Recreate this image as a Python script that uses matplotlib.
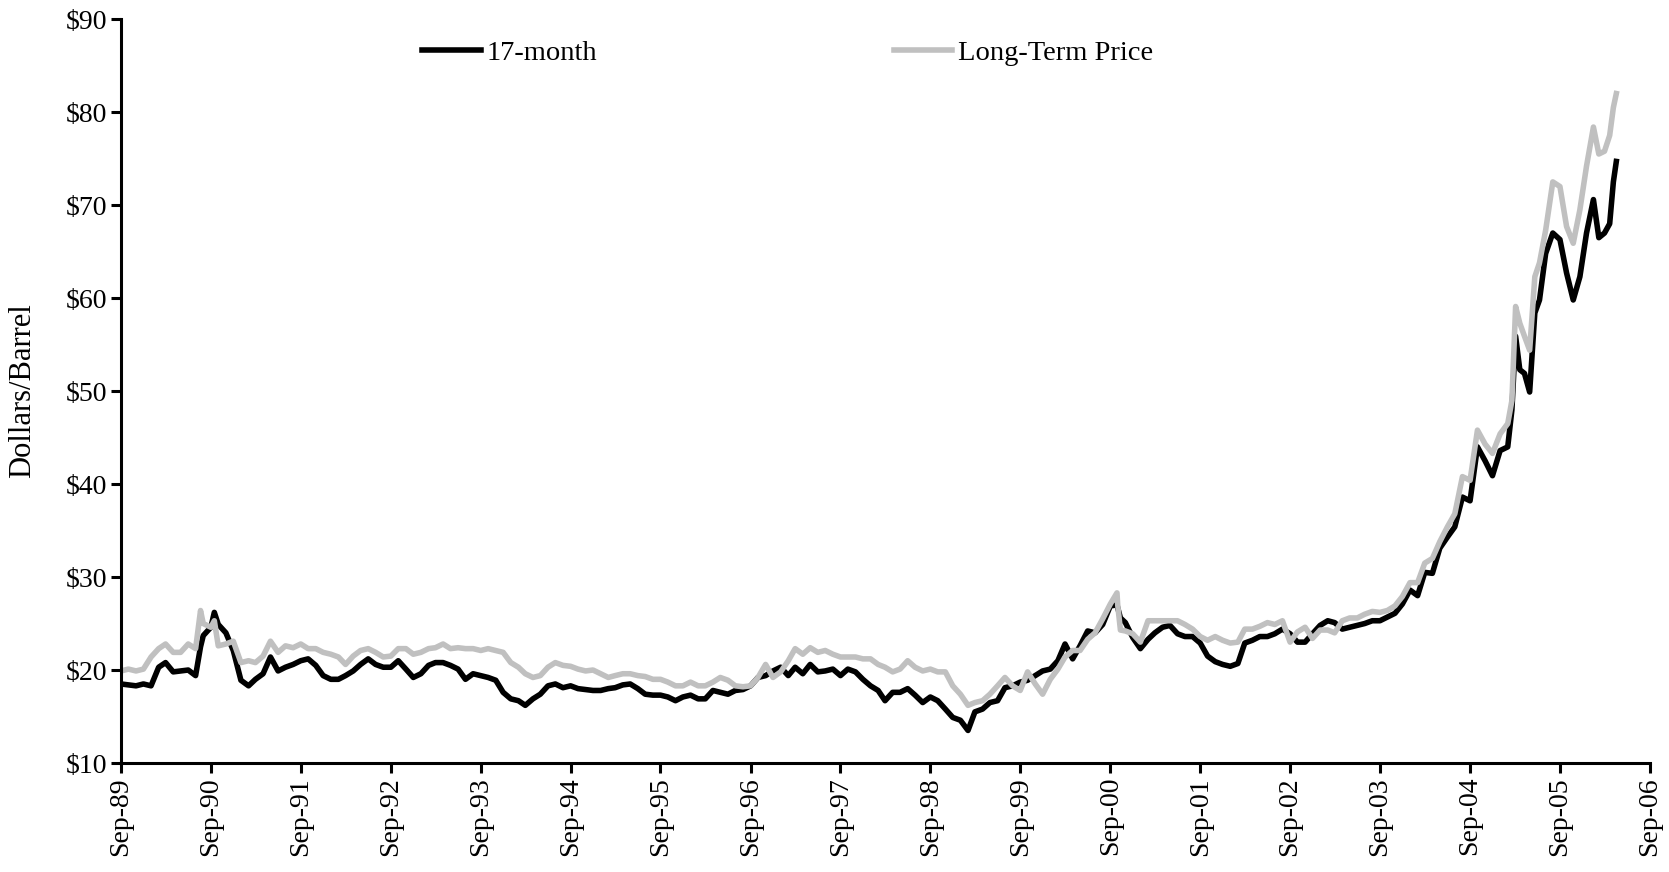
import numpy as np
import pandas as pd
import matplotlib
matplotlib.use('Agg')
import matplotlib.pyplot as plt
import matplotlib.dates as mdates
from matplotlib.ticker import FuncFormatter

plt.rcParams['font.family'] = ['Liberation Serif', 'DejaVu Serif']

# monthly values, Sep-89 .. Feb-05 ($/bbl)
month17 = [
    18.5, 18.4, 18.3, 18.5,
    18.3, 20.3, 20.8, 19.8, 19.9, 20.0, 19.4, 23.7, 24.6, 24.9, 24.0, 22.1,
    18.9, 18.3, 19.0, 19.6, 21.4, 19.9, 20.3, 20.6, 21.0, 21.2, 20.5, 19.4,
    19.0, 19.0, 19.4, 19.9, 20.6, 21.2, 20.6, 20.3, 20.3, 21.0, 20.1, 19.2,
    19.6, 20.5, 20.8, 20.8, 20.5, 20.1, 19.0, 19.6, 19.4, 19.2, 18.9, 17.6,
    16.9, 16.7, 16.2, 16.9, 17.4, 18.3, 18.5, 18.1, 18.3, 18.0, 17.9, 17.8,
    17.8, 18.0, 18.1, 18.4, 18.5, 18.0, 17.4, 17.3, 17.3, 17.1, 16.7, 17.1,
    17.3, 16.9, 16.9, 17.8, 17.6, 17.4, 17.8, 17.9, 18.3, 19.2, 19.4, 19.9,
    20.3, 19.4, 20.3, 19.6, 20.6, 19.8, 19.9, 20.1, 19.4, 20.1, 19.8, 19.0,
    18.3, 17.8, 16.7, 17.6, 17.6, 18.0, 17.3, 16.5, 17.1, 16.7, 15.8, 14.9,
    14.6, 13.5, 15.5, 15.8, 16.5, 16.7, 18.1, 18.3, 18.7, 18.9, 19.4, 19.9,
    20.1, 21.0, 22.8, 21.2, 22.6, 24.2, 24.0, 24.9, 26.9, 26.7, 25.1, 23.5,
    22.3, 23.3, 24.0, 24.6, 24.8, 23.9, 23.6, 23.6, 22.9, 21.5, 20.9, 20.6,
    20.4, 20.7, 22.9, 23.2, 23.6, 23.6, 23.9, 24.4, 23.9, 23.0, 23.0, 23.9,
    24.8, 25.3, 25.1, 24.4, 24.6, 24.8, 25.0, 25.3, 25.3, 25.7, 26.1, 27.1,
    28.6, 28.0, 30.5, 30.4, 33.1, 34.3, 35.4, 38.6, 38.2, 44.0, 42.5, 40.9,
    43.6, 44.0,
]
longterm = [
    19.9, 20.1, 19.9, 20.1,
    21.4, 22.3, 22.8, 21.9, 21.9, 22.8, 22.3, 25.0, 24.6, 22.6, 22.8, 23.1,
    20.8, 21.0, 20.8, 21.5, 23.1, 21.9, 22.6, 22.4, 22.8, 22.3, 22.3, 21.9,
    21.7, 21.4, 20.6, 21.5, 22.1, 22.3, 21.9, 21.4, 21.5, 22.3, 22.3, 21.7,
    21.9, 22.3, 22.4, 22.8, 22.3, 22.4, 22.3, 22.3, 22.1, 22.3, 22.1, 21.9,
    20.8, 20.3, 19.6, 19.2, 19.4, 20.3, 20.8, 20.5, 20.4, 20.1, 19.9, 20.0,
    19.6, 19.2, 19.4, 19.6, 19.6, 19.4, 19.3, 19.0, 19.0, 18.7, 18.3, 18.3,
    18.7, 18.3, 18.3, 18.7, 19.2, 18.9, 18.3, 18.2, 18.3, 19.2, 20.6, 19.2,
    19.8, 21.0, 22.3, 21.7, 22.4, 21.9, 22.1, 21.7, 21.4, 21.4, 21.4, 21.2,
    21.2, 20.6, 20.3, 19.8, 20.1, 21.0, 20.3, 19.9, 20.1, 19.8, 19.8, 18.3,
    17.4, 16.2, 16.5, 16.7, 17.4, 18.3, 19.2, 18.3, 17.8, 19.8, 18.5, 17.4,
    19.0, 20.1, 21.4, 22.1, 22.1, 23.3, 24.0, 25.5, 27.1, 27.0, 24.2, 23.9,
    23.0, 25.3, 25.3, 25.3, 25.3, 25.3, 24.9, 24.4, 23.6, 23.2, 23.6, 23.2,
    22.9, 23.0, 24.4, 24.4, 24.7, 25.1, 24.9, 25.3, 23.0, 24.1, 24.6, 23.4,
    24.3, 24.3, 24.0, 25.3, 25.6, 25.6, 26.0, 26.3, 26.2, 26.4, 26.9, 27.9,
    29.4, 29.4, 31.5, 32.0, 33.8, 35.4, 36.8, 40.8, 40.4, 45.8, 44.3, 43.3,
    45.4, 46.5,
]

# in-between points (spikes and the 2005-06 run-up)
extra_dates = ['1990-07-21', '1990-09-15', '2000-09-28', '2000-10-12',
               '2005-02-18', '2005-03-05', '2005-03-22', '2005-04-10',
               '2005-05-01', '2005-05-22', '2005-06-10', '2005-07-05',
               '2005-08-03', '2005-09-01', '2005-09-28', '2005-10-25',
               '2005-11-21', '2005-12-18', '2006-01-15', '2006-02-06',
               '2006-03-01', '2006-03-22', '2006-04-06', '2006-04-18']
extra17 = [22.5, 26.2, 27.0, 25.6,
           48.0, 55.9, 52.3, 51.9, 49.9, 58.4, 59.8, 64.8,
           67.0, 66.3, 62.7, 59.8, 62.3, 67.0, 70.6, 66.5,
           67.0, 68.0, 72.5, 74.7]
extraLT = [26.4, 25.3, 28.3, 24.3,
           49.0, 59.1, 57.3, 55.9, 54.4, 62.3, 63.8, 67.3,
           72.5, 72.0, 67.7, 65.9, 69.5, 74.2, 78.4, 75.5,
           75.8, 77.5, 80.5, 82.0]

df = pd.DataFrame({'date': pd.date_range('1989-09-01', periods=len(month17), freq='MS'),
                   'm17': month17, 'lt': longterm})
df2 = pd.DataFrame({'date': pd.to_datetime(extra_dates), 'm17': extra17, 'lt': extraLT})
df = pd.concat([df, df2]).sort_values('date')

fig = plt.figure(figsize=(16.69, 8.72), dpi=100)
ax = fig.add_axes([0.0725, 0.125, 0.916, 0.853])

ax.plot(df['date'], df['m17'], color='black', lw=4.0, label='17-month')
ax.plot(df['date'], df['lt'], color='#c0c0c0', lw=4.0, label='Long-Term Price')

xtk = pd.date_range('1989-09-01', '2006-09-01', freq='12MS')
ax.set_xlim(xtk[0], xtk[-1])
ax.set_xticks(xtk)
ax.set_xticklabels([d.strftime('%b-%y') for d in xtk], rotation=90)
ax.set_ylim(10, 90)
ax.set_yticks(np.arange(10, 91, 10))
ax.yaxis.set_major_formatter(FuncFormatter(lambda v, p: '$%d' % v))
ax.set_ylabel('Dollars/Barrel', fontsize=22)
ax.yaxis.set_label_coords(-0.055, 0.5)

for s in ['top', 'right']:
    ax.spines[s].set_visible(False)
for s in ['left', 'bottom']:
    ax.spines[s].set_linewidth(2.2)
ax.tick_params(axis='both', direction='out', length=7, width=2.2, labelsize=20, pad=3)

ax.legend(loc='center left', bbox_to_anchor=(0.197, 0.955), ncol=2, frameon=False,
          fontsize=20.5, handlelength=2.07, handletextpad=0.2, columnspacing=10.4,
          borderpad=0, borderaxespad=0)

fig.savefig('out.png', dpi=100)
